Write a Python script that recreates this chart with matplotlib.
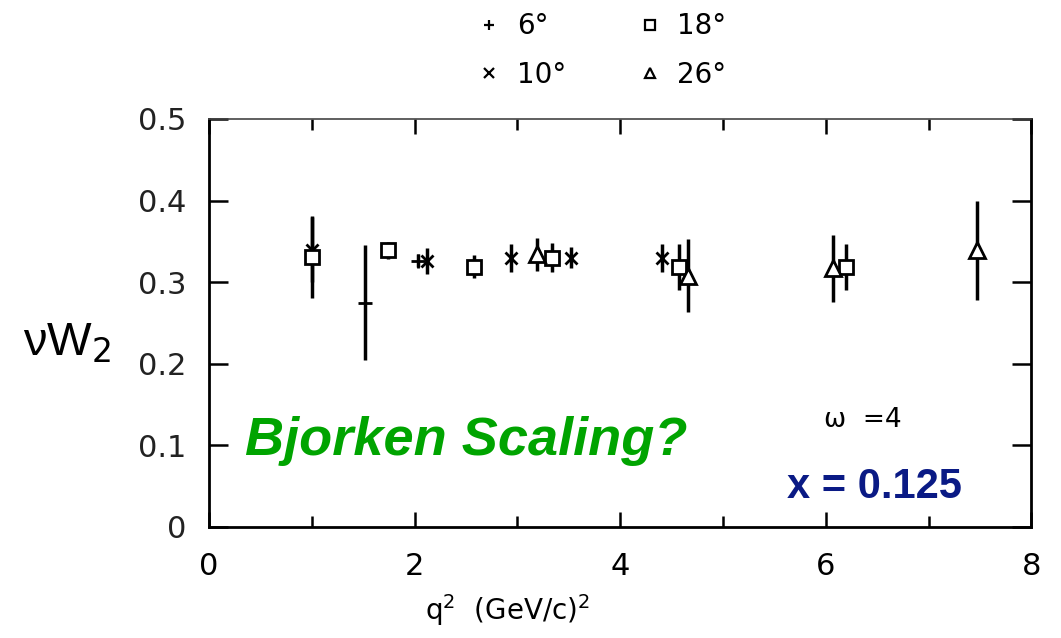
import matplotlib
matplotlib.use("Agg")
import matplotlib.pyplot as plt
from matplotlib.lines import Line2D
from matplotlib.ticker import MultipleLocator

# q^2, nu*W2, error  for each scattering angle
q2_6 = [1.52, 2.03]
w2_6 = [0.275, 0.326]
err_6 = [0.07, 0.008]

q2_10 = [1.00, 2.12, 2.94, 3.52, 4.41]
w2_10 = [0.340, 0.326, 0.330, 0.330, 0.330]
err_10 = [0.040, 0.016, 0.017, 0.013, 0.017]

q2_18 = [1.00, 1.745, 2.58, 3.335, 4.57, 6.20]
w2_18 = [0.331, 0.339, 0.319, 0.330, 0.319, 0.319]
err_18 = [0.050, 0.010, 0.014, 0.018, 0.028, 0.028]

q2_26 = [3.19, 4.66, 6.07, 7.47]
w2_26 = [0.334, 0.308, 0.317, 0.339]
err_26 = [0.020, 0.045, 0.041, 0.061]

series = [
    ("6°", q2_6, w2_6, err_6, "+", 10),
    ("10°", q2_10, w2_10, err_10, "x", 9),
    ("18°", q2_18, w2_18, err_18, "s", 10),
    ("26°", q2_26, w2_26, err_26, "^", 11),
]

fig = plt.figure(figsize=(10.61, 6.38), dpi=100)
ax = fig.add_axes([0.197, 0.174, 0.775, 0.6395])

handles = []
for label, xs, ys, es, mk, ms in series:
    ax.errorbar(xs, ys, yerr=es, fmt=mk, ms=ms, mfc="white", mec="black",
                mew=2, ecolor="black", elinewidth=2.5, capsize=0, zorder=3)
    handles.append(Line2D([], [], ls="none", marker=mk, ms=7, mfc="white",
                          mec="black", mew=1.6, label=label))

ax.set_xlim(0, 8)
ax.set_ylim(0, 0.5)
ax.xaxis.set_major_locator(MultipleLocator(2))
ax.xaxis.set_minor_locator(MultipleLocator(1))
ax.set_yticks([0, 0.1, 0.2, 0.3, 0.4, 0.5])
ax.set_yticklabels(["0", "0.1", "0.2", "0.3", "0.4", "0.5"])
ax.tick_params(which="both", direction="in", top=True, right=True,
               labelsize=22, width=1.8, colors="black")
ax.tick_params(axis="x", which="major", length=11, pad=18)
ax.tick_params(axis="x", which="minor", length=8)
ax.tick_params(axis="y", which="major", length=14, pad=16)
for side in ["left", "bottom", "right"]:
    ax.spines[side].set_linewidth(2)
ax.spines["top"].set_linewidth(1.2)
ax.spines["top"].set_color("#444444")
for lbl in ax.get_yticklabels():
    lbl.set_color("#222222")

ax.set_xlabel("q$^2$  (GeV/c)$^2$", fontsize=20)
ax.xaxis.set_label_coords(0.363, -0.16)
ax.set_ylabel("νW$_2$", fontsize=34, rotation=0, family="Liberation Sans",
              va="center", ha="center")
ax.yaxis.set_label_coords(-0.173, 0.45)

ax.text(0.044, 0.21, "Bjorken Scaling?", transform=ax.transAxes,
        fontsize=39, color="#00a400", fontweight="bold", style="italic",
        family="Liberation Sans", ha="left", va="center")
ax.text(0.748, 0.263, "ω  =4", transform=ax.transAxes, fontsize=19,
        ha="left", va="center")
ax.text(0.703, 0.098, "x = 0.125", transform=ax.transAxes, fontsize=30,
        color="#0a1a85", fontweight="bold", family="Liberation Sans",
        ha="left", va="center")

fig.legend(handles=handles, ncol=2, loc="upper left",
           bbox_to_anchor=(0.427, 1.02), frameon=False, fontsize=20,
           handletextpad=0.6, columnspacing=2.6, labelspacing=0.75,
           handlelength=0.8)

fig.savefig("out.png", dpi=100, facecolor="white")
